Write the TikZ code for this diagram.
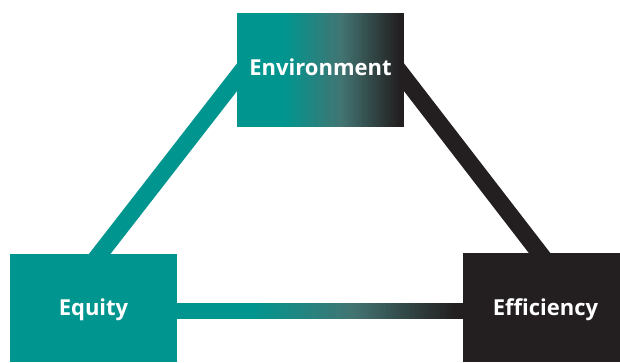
\documentclass[tikz,border=0pt]{standalone}
\usepackage{fontspec}
\setmainfont{Open Sans}
\usetikzlibrary{calc}
\definecolor{tealc}{RGB}{0,150,143}
\definecolor{darkc}{RGB}{35,31,32}
\definecolor{midB}{RGB}{66,116,114}
\pgfdeclarelayer{lines}
\pgfdeclarelayer{fills}
\pgfsetlayers{lines,fills,main}
% horizontal gradient teal -> grey-teal -> dark, in slices: x0 y0 x1 y1
\newcommand\gradfill[4]{%
  \foreach \gi in {0,...,79}{%
    \pgfmathsetmacro\gt{\gi/79}%
    \pgfmathtruncatemacro\gp{\gt<0.5 ? 200*\gt : 200*\gt-100}%
    \ifdim\gt pt<0.5pt \colorlet{gc}{midB!\gp!tealc}\else\colorlet{gc}{darkc!\gp!midB}\fi
    \pgfmathsetmacro\gw{(#3-#1)/80}%
    \pgfmathsetmacro\xa{#1+\gw*\gi}%
    \pgfmathsetmacro\xb{\xa+\gw+0.6}%
    \fill[gc] (\xa,#2) rectangle (\xb,#4);
  }}
\begin{document}
\begin{tikzpicture}[x=1pt,y=-1pt,
  box/.style={draw=none, inner sep=0pt},
  txt/.style={font=\bfseries\fontsize{22}{26}\selectfont, text=white, inner sep=0pt, text height=15.8pt, text depth=0pt},
  link/.style={line width=17pt, shorten <=-15pt, shorten >=-15pt}]
\useasboundingbox (0,0) rectangle (620,362);
\node[box, minimum width=167pt, minimum height=108pt,
  label={[txt]center:Equity}] (equity) at (93.5,308) {};
\node[box, minimum width=157pt, minimum height=108.5pt,
  label={[txt, xshift=4pt]center:Efficiency}] (efficiency) at (541.5,307.75) {};
\node[box, minimum width=167pt, minimum height=114pt,
  label={[txt, yshift=2pt]center:Environment}] (env) at (320.5,70) {};
\begin{pgfonlayer}{fills}
  \fill[tealc] (equity.south west) rectangle (equity.north east);
  \fill[darkc] (efficiency.south west) rectangle (efficiency.north east);
  % Environment box: teal, gradient, dark
  \fill[tealc] (237,13) rectangle (284,127);
  \fill[darkc] (399,13) rectangle (404,127);
  \gradfill{283}{13}{400}{127}
\end{pgfonlayer}
\begin{pgfonlayer}{lines}
  \coordinate (l1) at ($(equity.north west)+(90,0)$);
  \coordinate (l2) at ($(env.west)+(0,7.5)$);
  \coordinate (r1) at ($(env.east)+(0,7.5)$);
  \coordinate (r2) at ($(efficiency.north west)+(77,0)$);
  \draw[link, tealc] (l1) -- (l2);
  \draw[link, darkc] (r1) -- (r2);
  % bottom bar: teal, gradient, dark
  \fill[tealc] (175,303) rectangle (251,319);
  \fill[darkc] (454,303) rectangle (465,319);
  \gradfill{250}{303}{455}{319}
\end{pgfonlayer}
\end{tikzpicture}
\end{document}
